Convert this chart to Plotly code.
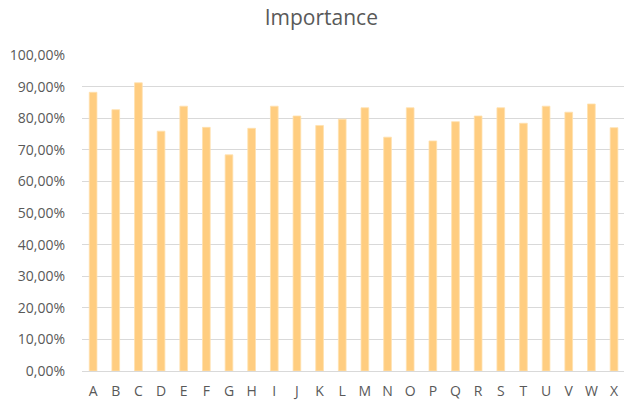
import plotly.graph_objects as go

categories = list("ABCDEFGHIJKLMNOPQRSTUVWX")
importance = [0.882, 0.827, 0.912, 0.759, 0.838, 0.771, 0.684, 0.768, 0.838, 0.807, 0.777,
              0.797, 0.833, 0.740, 0.833, 0.728, 0.789, 0.807, 0.833, 0.784, 0.838, 0.819,
              0.845, 0.770]
y_ticks = [i / 10 for i in range(11)]

fig = go.Figure(go.Bar(
    x=categories, y=importance,
    marker=dict(color="rgb(255,205,128)", line=dict(color="rgb(255,225,175)", width=0.8)),
    width=0.34,
))
fig.update_layout(
    width=624, height=401,
    margin=dict(l=82, r=0, t=55, b=30),
    paper_bgcolor="white", plot_bgcolor="white",
    separators=",.",
    font=dict(family="Open Sans, Noto Sans, sans-serif", color="#595959", size=14),
    title=dict(text="Importance", x=0.515, xref="container", xanchor="center",
               y=0.955, yanchor="middle", font=dict(size=21, color="#595959")),
    showlegend=False,
)
fig.update_yaxes(range=[0, 1], tickvals=y_ticks, tickformat=".2%", showgrid=True,
                 gridcolor="#d9d9d9", gridwidth=1, zeroline=False, showline=False,
                 ticks="", ticklabelstandoff=16, tickfont=dict(size=14), automargin=False)
fig.update_xaxes(range=[-0.49, 23.44], showgrid=False, showline=True, linecolor="#d9d9d9",
                 linewidth=1, ticks="", tickfont=dict(size=14), ticklabelstandoff=7,
                 automargin=False)
fig.write_html(
    "out.html",
    config={"displayModeBar": False},
    post_script="document.body.style.margin='0';document.body.style.overflow='hidden';"
                "document.documentElement.style.overflow='hidden';",
)
